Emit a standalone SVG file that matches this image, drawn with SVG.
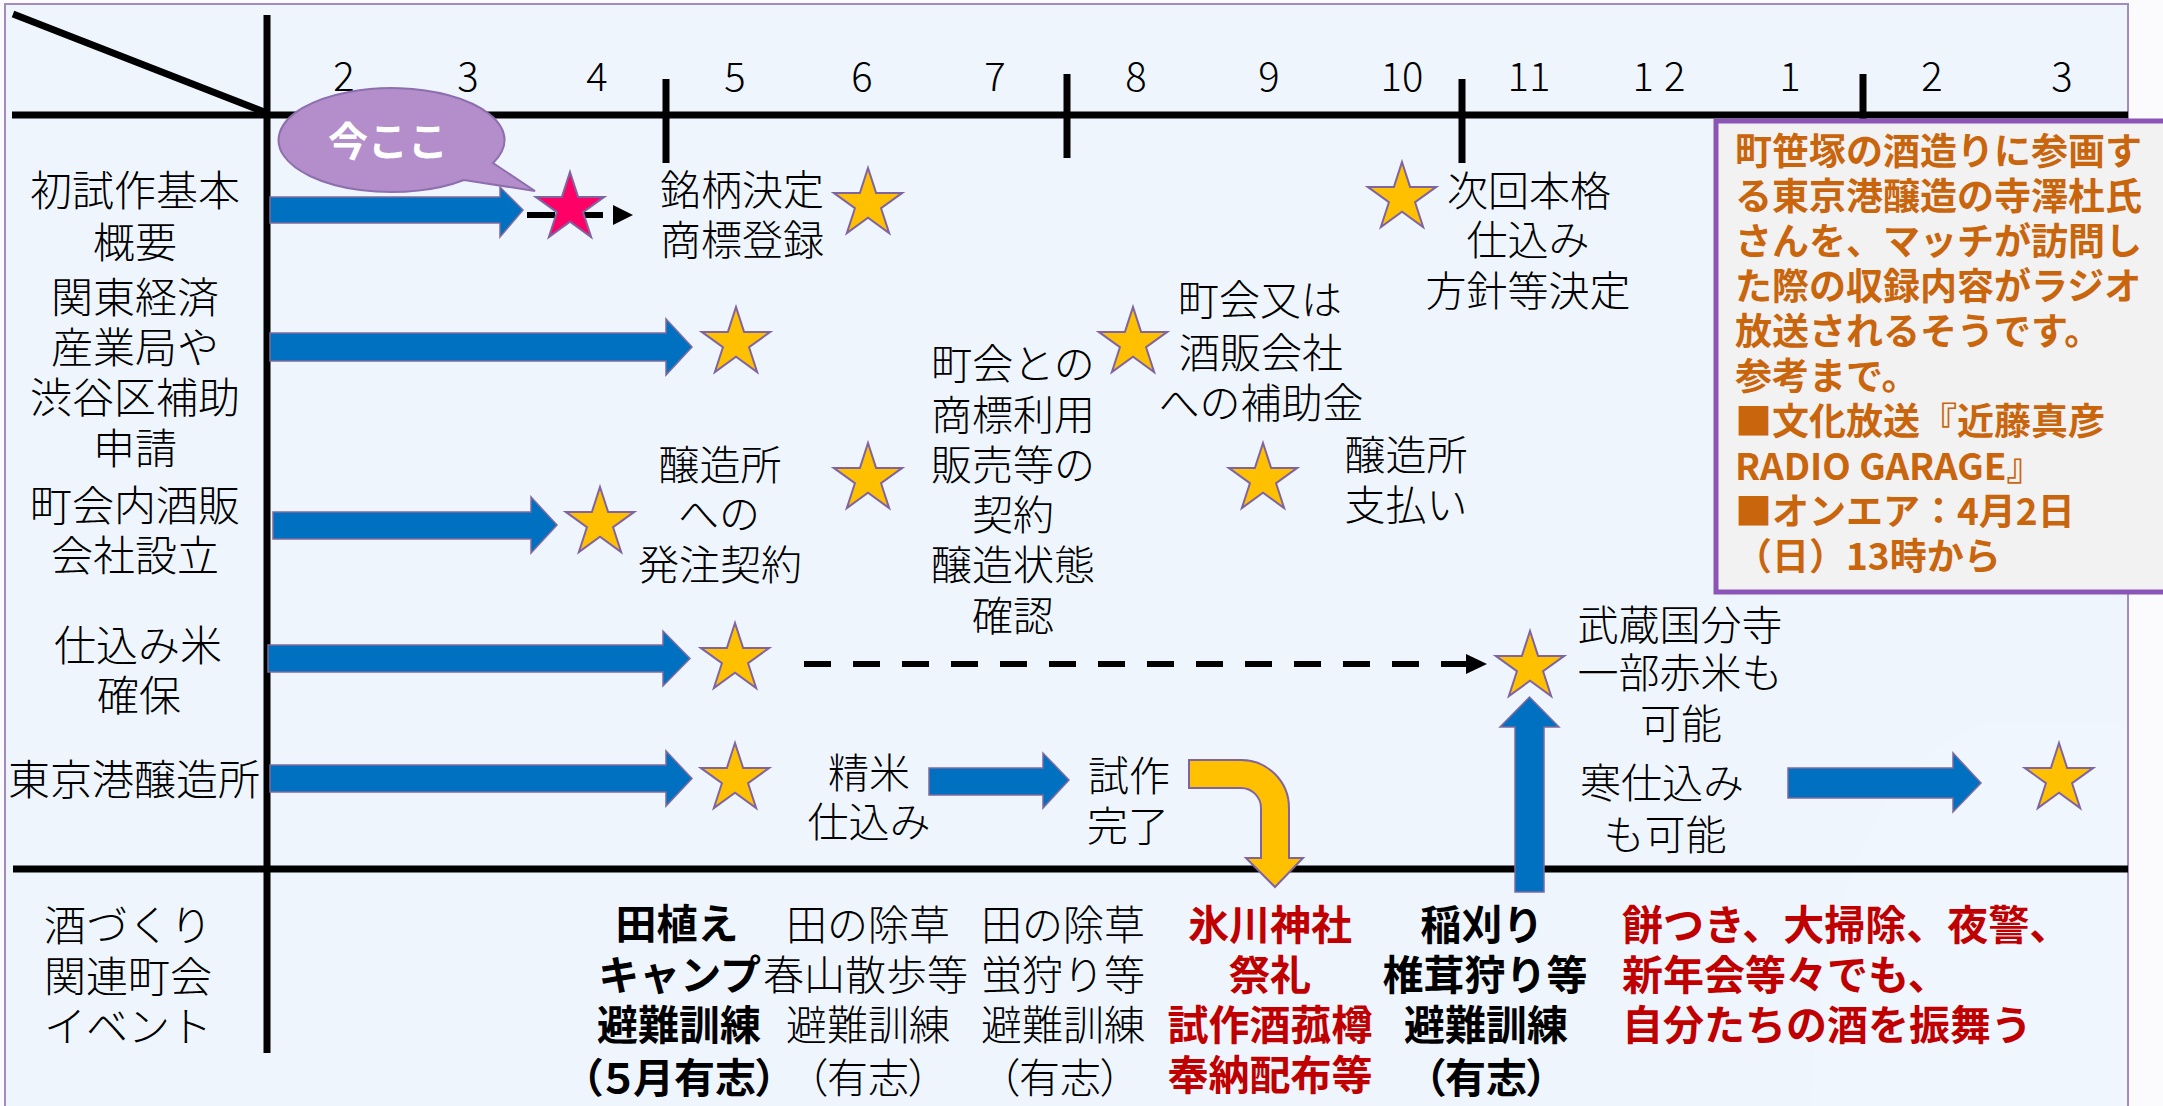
<svg xmlns="http://www.w3.org/2000/svg" xmlns:xlink="http://www.w3.org/1999/xlink" width="2163" height="1106" viewBox="0 0 2163 1106">
<style>
.t{font-family:"Noto Sans CJK JP","Noto Sans CJK SC",sans-serif;font-size:41px;fill:#000;text-anchor:middle;font-weight:300}
.lb{font-size:42px}
.mo{font-size:40px}
.b{font-weight:700}
.red{fill:#C00000}
.st{text-anchor:start}
.en{text-anchor:end}
.palt{font-feature-settings:"palt"}
.info{font-family:"Noto Sans CJK JP","Noto Sans CJK SC",sans-serif;font-size:37px;font-weight:700;fill:#C9650D}
.ln{stroke:#000;stroke-width:7;fill:none}
.blue{fill:#0070C0;stroke:#7F6A9F;stroke-width:1.5}
.gold{fill:#FFC000;stroke:#8064A2;stroke-width:2}
</style>
<defs>
<polygon id="star" points="0,-36 8.08,-11.12 34.24,-11.12 13.08,4.25 21.16,29.12 0,13.75 -21.16,29.12 -13.08,4.25 -34.24,-11.12 -8.08,-11.12"/>
</defs>
<rect x="0" y="0" width="2163" height="1106" fill="#FBFBFD"/>
<rect id="frame" x="5" y="4" width="2123" height="1120" fill="#EEF5FD" stroke="#A08CC0" stroke-width="2"/>
<path d="M1810,1106 Q1830,770 1990,722 L2127,722 L2127,1106 Z" fill="#FFFFFF" opacity="0.12"/>

<g id="axes">
<line class="ln" x1="13" y1="14" x2="267" y2="113" stroke-width="6.5"/>
<line class="ln" x1="12" y1="115" x2="2128" y2="115"/>
<line class="ln" x1="267" y1="15" x2="267" y2="1053"/>
<line class="ln" x1="13" y1="869" x2="2128" y2="869"/>
<line class="ln" x1="666" y1="79" x2="666" y2="163"/>
<line class="ln" x1="1067" y1="74" x2="1067" y2="158"/>
<line class="ln" x1="1462" y1="79" x2="1462" y2="163"/>
<line class="ln" x1="1863" y1="74" x2="1863" y2="119"/>
</g>

<g id="months" class="t mo">
<text x="344" y="91">2</text>
<text x="468" y="91">3</text>
<text x="597" y="91">4</text>
<text x="735" y="91">5</text>
<text x="862" y="91">6</text>
<text x="995" y="91">7</text>
<text x="1136" y="91">8</text>
<text x="1269" y="91">9</text>
<text x="1402" y="91">10</text>
<text x="1529" y="91">11</text>
<text x="1664" y="91" letter-spacing="10">12</text>
<text x="1790" y="91">1</text>
<text x="1932" y="91">2</text>
<text x="2062" y="91">3</text>
</g>

<g id="row-labels" class="t lb">
<text x="135" y="206">初試作基本</text>
<text x="135" y="258">概要</text>
<text x="135" y="313">関東経済</text>
<text x="135" y="363">産業局や</text>
<text x="135" y="413">渋谷区補助</text>
<text x="135" y="464">申請</text>
<text x="135" y="521">町会内酒販</text>
<text x="135" y="571">会社設立</text>
<text x="138" y="661">仕込み米</text>
<text x="139" y="711">確保</text>
<text x="134" y="795">東京港醸造所</text>
<text x="128" y="941">酒づくり</text>
<text x="128" y="992">関連町会</text>
<text x="128" y="1042">イベント</text>
</g>

<g id="connectors">
<polygon class="blue" points="270,197 500,197 500,187 523,210 500,237 500,223 270,223"/>
<polygon class="blue" points="270,333 666,333 666,319 692,347 666,375 666,361 270,361"/>
<polygon class="blue" points="273,512 531,512 531,497 557,525 531,553 531,539 273,539"/>
<polygon class="blue" points="268,645 663,645 663,631 690,658.5 663,686 663,672 268,672"/>
<polygon class="blue" points="270,765 666,765 666,751 692,778.5 666,806 666,792 270,792"/>
<polygon class="blue" points="929,768 1043,768 1043,753 1069,780 1043,808 1043,795 929,795"/>
<polygon class="blue" points="1788,768 1953,768 1953,753 1981,783 1953,812 1953,798 1788,798"/>
<polygon class="blue" points="1515,892 1515,727 1500,727 1529.5,697 1559,727 1544,727 1544,892"/>
<path class="gold" d="M1189,760 L1241,760 A48,48 0 0 1 1289,808 L1289,858 L1303,858 L1275,887 L1246,858 L1261,858 L1261,808 A20,20 0 0 0 1241,788 L1189,788 Z"/>
<line x1="527" y1="215" x2="608" y2="215" stroke="#000" stroke-width="6" stroke-dasharray="28 20"/>
<polygon points="613,205 633,215 613,225" fill="#000"/>
<line x1="804" y1="664" x2="1466" y2="664" stroke="#000" stroke-width="6" stroke-dasharray="27 22"/>
<polygon points="1466,654 1487,664 1466,674" fill="#000"/>
</g>

<g id="stars" class="gold">
<use xlink:href="#star" href="#star" x="570" y="208" fill="#FF0066"/>
<use xlink:href="#star" href="#star" x="868" y="204"/>
<use xlink:href="#star" href="#star" x="1402" y="198"/>
<use xlink:href="#star" href="#star" x="736" y="343"/>
<use xlink:href="#star" href="#star" x="1133" y="343"/>
<use xlink:href="#star" href="#star" x="600" y="523"/>
<use xlink:href="#star" href="#star" x="868" y="479"/>
<use xlink:href="#star" href="#star" x="1263" y="479"/>
<use xlink:href="#star" href="#star" x="735" y="659"/>
<use xlink:href="#star" href="#star" x="1530" y="667"/>
<use xlink:href="#star" href="#star" x="735" y="779"/>
<use xlink:href="#star" href="#star" x="2059" y="779"/>
</g>

<g id="bubble">
<path d="M493,163 L535,191 L464,180 A113,52 0 1 1 493,163 Z" fill="#B38ECB" stroke="#8E6FAE" stroke-width="2"/>
<text x="388" y="156" font-family="'Noto Sans CJK JP','Noto Sans CJK SC',sans-serif" font-size="40" font-weight="700" fill="#FFFFFF" text-anchor="middle">今ここ</text>
</g>

<g id="notes" class="t">
<text x="742" y="205">銘柄決定</text>
<text x="742" y="255">商標登録</text>
<text x="1529" y="206">次回本格</text>
<text x="1528" y="255">仕込み</text>
<text x="1528" y="306">方針等決定</text>
<text x="1260" y="315">町会又は</text>
<text x="1261" y="368">酒販会社</text>
<text x="1261" y="418">への補助金</text>
<text x="1013" y="379">町会との</text>
<text x="1013" y="430">商標利用</text>
<text x="1013" y="480">販売等の</text>
<text x="1013" y="530">契約</text>
<text x="1013" y="580">醸造状態</text>
<text x="1013" y="631">確認</text>
<text x="720" y="480">醸造所</text>
<text x="719" y="529">への</text>
<text x="720" y="580">発注契約</text>
<text x="1406" y="470">醸造所</text>
<text x="1406" y="520">支払い</text>
<text x="1680" y="640">武蔵国分寺</text>
<text x="1680" y="688">一部赤米も</text>
<text x="1681" y="739">可能</text>
<text x="1662" y="798">寒仕込み</text>
<text x="1665" y="850">も可能</text>
<text x="869" y="788">精米</text>
<text x="869" y="837">仕込み</text>
<text x="1129" y="791">試作</text>
<text x="1128" y="841">完了</text>
</g>

<g id="events" class="t">
<text class="b" x="677" y="939">田植え</text>
<text class="b en" x="761" y="990">キャンプ</text>
<text class="b" x="679" y="1040">避難訓練</text>
<text class="b palt" x="679" y="1093">（５月有志）</text>
<text x="868" y="940">田の除草</text>
<text class="st" x="763" y="990">春山散歩等</text>
<text x="868" y="1040">避難訓練</text>
<text class="palt" x="868" y="1093">（有志）</text>
<text x="1063" y="940">田の除草</text>
<text x="1063" y="990">蛍狩り等</text>
<text x="1063" y="1040">避難訓練</text>
<text class="palt" x="1060" y="1093">（有志）</text>
<text class="b red" x="1270" y="940">氷川神社</text>
<text class="b red" x="1270" y="990">祭礼</text>
<text class="b red" x="1270" y="1040">試作酒菰樽</text>
<text class="b red" x="1270" y="1090">奉納配布等</text>
<text class="b" x="1482" y="940">稲刈り</text>
<text class="b" x="1485" y="990">椎茸狩り等</text>
<text class="b" x="1486" y="1040">避難訓練</text>
<text class="b palt" x="1486" y="1093">（有志）</text>
<text class="b red st" x="1622" y="940">餅つき、大掃除、夜警、</text>
<text class="b red st" x="1622" y="990">新年会等々でも、</text>
<text class="b red st" x="1622" y="1040">自分たちの酒を振舞う</text>
</g>

<g id="info-box">
<rect x="1716" y="121" width="470" height="471" fill="#F2F2F2" stroke="#8B55B8" stroke-width="5"/>
<g class="info">
<text x="1735" y="165">町笹塚の酒造りに参画す</text>
<text x="1735" y="210">る東京港醸造の寺澤杜氏</text>
<text x="1735" y="255">さんを、マッチが訪問し</text>
<text x="1735" y="300">た際の収録内容がラジオ</text>
<text x="1735" y="345">放送されるそうです。</text>
<text x="1735" y="390">参考まで。</text>
<text x="1735" y="435">■文化放送『近藤真彦</text>
<text x="1735" y="480">RADIO GARAGE』</text>
<text x="1735" y="525">■オンエア：4月2日</text>
<text x="1735" y="570">（日）13時から</text>
</g>
</g>
</svg>
